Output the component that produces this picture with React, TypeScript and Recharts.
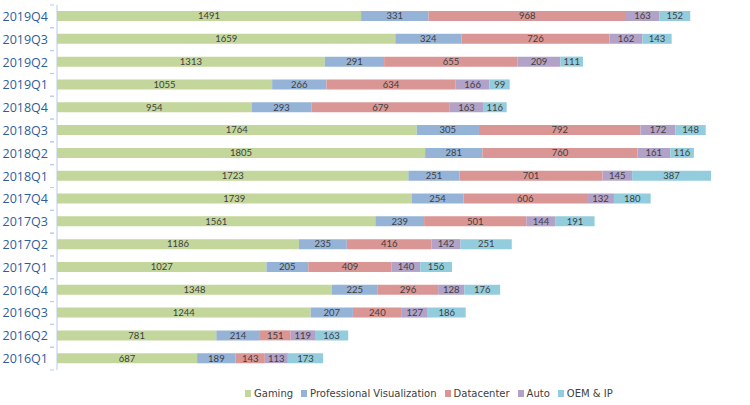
import React from 'react';
import { BarChart, Bar, XAxis, YAxis, LabelList, Legend } from 'recharts';

const quarters = [
  '2016Q1', '2016Q2', '2016Q3', '2016Q4',
  '2017Q1', '2017Q2', '2017Q3', '2017Q4',
  '2018Q1', '2018Q2', '2018Q3', '2018Q4',
  '2019Q1', '2019Q2', '2019Q3', '2019Q4'
];
const gaming = [687, 781, 1244, 1348, 1027, 1186, 1561, 1739, 1723, 1805, 1764, 954, 1055, 1313, 1659, 1491];
const proViz = [189, 214, 207, 225, 205, 235, 239, 254, 251, 281, 305, 293, 266, 291, 324, 331];
const datacenter = [143, 151, 240, 296, 409, 416, 501, 606, 701, 760, 792, 679, 634, 655, 726, 968];
const auto = [113, 119, 127, 128, 140, 142, 144, 132, 145, 161, 172, 163, 166, 209, 162, 163];
const oemIp = [173, 163, 186, 176, 156, 251, 191, 180, 387, 116, 148, 116, 99, 111, 143, 152];

const series = [
  { key: 'gaming', name: 'Gaming', color: '#C3D69B', values: gaming },
  { key: 'proViz', name: 'Professional Visualization', color: '#95B3D7', values: proViz },
  { key: 'datacenter', name: 'Datacenter', color: '#D99694', values: datacenter },
  { key: 'auto', name: 'Auto', color: '#B3A2C7', values: auto },
  { key: 'oemIp', name: 'OEM & IP', color: '#93CDDD', values: oemIp }
];

const data = quarters.map((q, i) => {
  const row: Record<string, string | number> = { q };
  series.forEach(s => { row[s.key] = s.values[i]; });
  return row;
});

const BAND_HALF = 11.4;

const QuarterTick = (props: any) => {
  const { x, y, payload } = props;
  return (
    <g>
      <line x1={x + 1} x2={x + 5} y1={y - BAND_HALF} y2={y - BAND_HALF} stroke="#B9CDE5" />
      <line x1={x + 1} x2={x + 5} y1={y + BAND_HALF} y2={y + BAND_HALF} stroke="#B9CDE5" />
      <text x={x - 1} y={y} dy={4.5} textAnchor="end" fill="#2F5D9A" fontSize={12.5} fontFamily="'Open Sans', sans-serif">
        {payload.value}
      </text>
    </g>
  );
};

const LegendContent = () => (
  <div style={{ display: 'flex', gap: 8, fontFamily: "'DejaVu Sans', sans-serif", fontSize: 10, color: '#404040' }}>
    {series.map(s => (
      <div key={s.key} style={{ display: 'flex', alignItems: 'center', gap: 3 }}>
        <span style={{ display: 'inline-block', width: 6, height: 7, background: s.color }} />
        <span>{s.name}</span>
      </div>
    ))}
  </div>
);

export default function App() {
  return (
    <div style={{ position: 'absolute', left: 0, top: 0, background: '#fff' }}>
      <BarChart
        width={750}
        height={405}
        data={data}
        layout="vertical"
        margin={{ top: 5, right: 20, bottom: 21, left: 0 }}
        barSize={10}
      >
        <XAxis type="number" domain={[0, 3300]} hide />
        <YAxis
          type="category"
          dataKey="q"
          reversed
          width={57}
          axisLine={{ stroke: '#B9CDE5' }}
          tickLine={false}
          tick={<QuarterTick />}
          interval={0}
        />
        <Legend
          verticalAlign="bottom"
          content={<LegendContent />}
          wrapperStyle={{ left: 245, top: 388, bottom: 'auto', width: 'auto', height: 14 }}
        />
        {series.map(s => (
          <Bar key={s.key} dataKey={s.key} name={s.name} stackId="rev" fill={s.color} isAnimationActive={false}>
            <LabelList
              dataKey={s.key}
              position="center"
              fill="#404040"
              fontSize={9.5}
              fontFamily="Lato, sans-serif"
            />
          </Bar>
        ))}
      </BarChart>
    </div>
  );
}
